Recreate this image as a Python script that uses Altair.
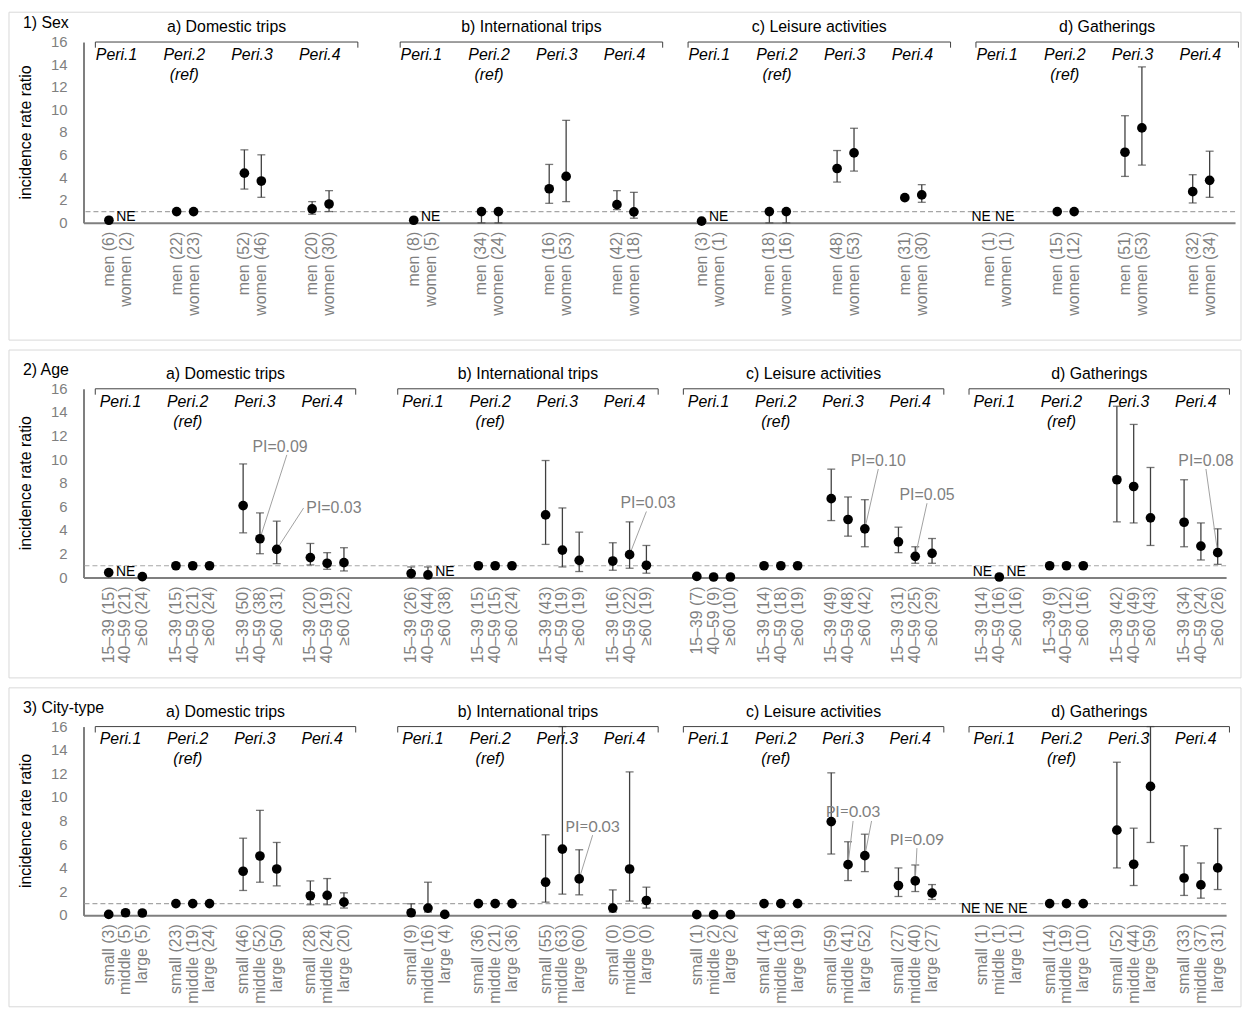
import altair as alt
import pandas as pd

N = None
FONT = "Liberation Sans"
GRAY = "#7f7f7f"
DARK = "#404040"

PANELS = ["a) Domestic trips", "b) International trips", "c) Leisure activities", "d) Gatherings"]
PERIODS = ["Peri.1", "Peri.2\n(ref)", "Peri.3", "Peri.4"]
ROW_TITLES = ["1) Sex", "2) Age", "3) City-type"]
Y_TITLE = "incidence rate ratio"
Y_TICKS = [0, 2, 4, 6, 8, 10, 12, 14, 16]

# ---------------- 1) Sex ----------------
SEX_GROUPS = ["men", "women"]
SEX_N = [[[6, 2], [22, 23], [52, 46], [20, 30]],
         [[8, 5], [34, 24], [16, 53], [42, 18]],
         [[3, 1], [18, 16], [48, 53], [31, 30]],
         [[1, 1], [15, 12], [51, 53], [32, 34]]]
SEX_IRR = [[[0.23, N], [1, 1], [4.40, 3.70], [1.23, 1.67]],
           [[0.23, N], [1, 1], [3.02, 4.11], [1.61, 0.97]],
           [[0.15, N], [1, 1], [4.81, 6.19], [2.23, 2.47]],
           [[N, N], [1, 1], [6.25, 8.40], [2.76, 3.76]]]
SEX_LO = [[[N, N], [N, N], [2.99, 2.26], [0.76, 1.00]],
          [[N, N], [0, 0], [1.73, 1.88], [1.17, 0.41]],
          [[N, N], [0, 0], [3.61, 4.58], [N, 1.82]],
          [[N, N], [N, N], [4.11, 5.11], [1.76, 2.26]]]
SEX_HI = [[[N, N], [N, N], [6.46, 6.02], [1.88, 2.85]],
          [[N, N], [1, 1], [5.17, 9.07], [2.85, 2.70]],
          [[N, N], [1, 1], [6.40, 8.37], [N, 3.38]],
          [[N, N], [N, N], [9.48, 13.8], [4.26, 6.34]]]

# ---------------- 2) Age ----------------
AGE_GROUPS = ["15\u201339", "40\u201359", "\u226560"]
AGE_N = [[[15, 21, 24], [15, 21, 24], [50, 38, 31], [20, 19, 22]],
         [[26, 44, 38], [15, 15, 24], [43, 19, 19], [16, 22, 19]],
         [[7, 9, 10], [14, 18, 19], [49, 48, 42], [31, 25, 29]],
         [[14, 16, 16], [9, 12, 16], [42, 49, 43], [34, 24, 26]]]
AGE_IRR = [[[0.42, N, 0.08], [1, 1, 1], [6.10, 3.29, 2.39], [1.69, 1.21, 1.26]],
           [[0.34, 0.22, N], [1, 1, 1], [5.31, 2.33, 1.46], [1.40, 1.94, 1.04]],
           [[0.10, 0.05, 0.05], [1, 1, 1], [6.69, 4.92, 4.13], [3.03, 1.80, 2.05]],
           [[N, 0.05, N], [1, 1, 1], [8.29, 7.72, 5.06], [4.69, 2.67, 2.11]]]
AGE_LO = [[[N, N, N], [N, N, N], [3.79, 2.02, 1.18], [1.07, 0.70, 0.56]],
          [[0.1, 0.1, N], [N, N, N], [2.81, 0.90, 0.51], [0.62, 0.79, 0.37]],
          [[N, N, N], [N, N, N], [4.83, 3.51, 2.61], [2.11, 1.21, 1.21]],
          [[N, N, N], [N, N, N], [4.72, 4.63, 2.72], [2.61, 1.49, 1.12]]]
AGE_HI = [[[N, N, N], [N, N, N], [9.63, 5.48, 4.78], [2.89, 2.11, 2.53]],
          [[0.9, 0.9, N], [N, N, N], [9.92, 5.90, 3.85], [2.95, 4.72, 2.72]],
          [[N, N, N], [N, N, N], [9.19, 6.83, 6.60], [4.27, 2.61, 3.31]],
          [[N, N, N], [N, N, N], [14.52, 12.98, 9.33], [8.29, 4.63, 4.13]]]

# ---------------- 3) City-type ----------------
CITY_GROUPS = ["small", "middle", "large"]
CITY_N = [[[3, 5, 5], [23, 19, 24], [46, 52, 50], [28, 24, 20]],
          [[9, 16, 4], [36, 21, 36], [55, 63, 60], [0, 0, 0]],
          [[1, 2, 2], [14, 18, 19], [59, 41, 52], [27, 40, 27]],
          [[1, 1, 1], [14, 19, 10], [52, 44, 59], [33, 37, 31]]]
CITY_IRR = [[[0.08, 0.22, 0.20], [1, 1, 1], [3.74, 5.03, 3.93], [1.66, 1.69, 1.12]],
            [[0.22, 0.62, 0.08], [1, 1, 1], [2.81, 5.62, 3.09], [0.62, 3.93, 1.26]],
            [[0.06, 0.06, 0.06], [1, 1, 1], [7.95, 4.30, 5.06], [2.53, 2.92, 1.88]],
            [[N, N, N], [1, 1, 1], [7.22, 4.33, 10.93], [3.17, 2.58, 4.02]]]
CITY_LO = [[[N, N, N], [N, N, N], [2.11, 2.81, 2.50], [0.90, 0.90, 0.62]],
           [[0.15, 0.28, N], [N, N, N], [1.12, 1.80, 1.74], [0.28, 1.21, 0.62]],
           [[N, N, N], [N, N, N], [5.20, 2.95, 3.71], [1.60, 2.02, 1.35]],
           [[N, N, N], [N, N, N], [4.02, 2.53, 6.18], [1.69, 1.46, 2.19]]]
CITY_HI = [[[N, N, N], [N, N, N], [6.54, 8.90, 6.18], [2.92, 3.12, 1.91]],
           [[0.98, 2.81, N], [N, N, N], [6.83, 16.0, 5.56], [2.16, 12.16, 2.39]],
           [[N, N, N], [N, N, N], [12.08, 6.24, 6.88], [4.02, 4.27, 2.61]],
           [[N, N, N], [N, N, N], [12.98, 7.39, 16.0], [5.90, 4.44, 7.36]]]

# PI annotations: (row, panel, period, group, text, label slot offset, label y)
PI_LABELS = [
    (1, 0, 2, 1, "PI=0.09", 1.2, 11.1),
    (1, 0, 2, 2, "PI=0.03", 3.4, 5.9),
    (1, 1, 3, 1, "PI=0.03", 1.1, 6.3),
    (1, 2, 2, 2, "PI=0.10", 0.8, 9.9),
    (1, 2, 3, 1, "PI=0.05", 0.7, 7.0),
    (1, 3, 3, 2, "PI=0.08", -0.7, 9.9),
    (2, 1, 2, 2, "PI=0.03", 0.8, 7.5),
    (2, 2, 2, 1, "PI=0.03", 0.3, 8.8),
    (2, 2, 3, 1, "PI=0.09", 0.1, 6.4),
]
# leader lines: (row, panel, period, group, outer-end slot offset, outer-end y)
PI_LEADERS = [
    (1, 0, 2, 1, 1.6, 10.4),
    (1, 0, 2, 2, 1.6, 5.9),
    (1, 1, 3, 1, 1.0, 5.6),
    (1, 2, 2, 2, 0.8, 9.2),
    (1, 2, 3, 1, 0.7, 6.3),
    (1, 3, 3, 2, -0.7, 9.2),
    (2, 1, 2, 2, 0.8, 6.8),
    (2, 2, 2, 1, 0.3, 8.0),
    (2, 2, 2, 2, 0.4, 8.0),
    (2, 2, 3, 1, 0.1, 5.7),
]

# ---------------- layout of category slots ----------------
PERIOD_SLOTS = 4
PANEL_GAPS = [1, 2, 1, 1]
N_SLOTS = 68
NE_SPREAD = 1.4     # slot spacing for runs of adjacent "NE" labels
NE_RUN_SHIFT = -0.3


def layout():
    panel_first, period_first = [], []
    slot = 0
    for p in range(len(PANELS)):
        slot += PANEL_GAPS[p]
        panel_first.append(slot)
        firsts = []
        for _ in PERIODS:
            firsts.append(slot)
            slot += PERIOD_SLOTS
        period_first.append(firsts)
    return panel_first, period_first


PANEL_FIRST, PERIOD_FIRST = layout()

X_SCALE = alt.Scale(domain=[-0.5, N_SLOTS - 0.5], nice=False, zero=False)
Y_SCALE = alt.Scale(domain=[0, 16], nice=False)

ROWS = [
    dict(groups=SEX_GROUPS, n=SEX_N, irr=SEX_IRR, lo=SEX_LO, hi=SEX_HI,
         width=1159, height=182, box=(-30, 118), per_shift=0.45, pi_font=FONT),
    dict(groups=AGE_GROUPS, n=AGE_N, irr=AGE_IRR, lo=AGE_LO, hi=AGE_HI,
         width=1150, height=190, box=(-39, 101), per_shift=0.7, pi_font=FONT),
    dict(groups=CITY_GROUPS, n=CITY_N, irr=CITY_IRR, lo=CITY_LO, hi=CITY_HI,
         width=1150, height=190, box=(-39, 92), per_shift=0.7, pi_font="Lato"),
]


# secondary layers leave the axis unspecified (implicit) so the explicit axes win
def xq(field):
    return alt.X(field, type="quantitative", scale=X_SCALE)


def yq(field):
    return alt.Y(field, type="quantitative", scale=Y_SCALE)


def ne_positions(slots):
    """Spread runs of adjacent NE labels so the texts do not collide."""
    out = []
    slots = sorted(slots)
    i = 0
    while i < len(slots):
        j = i
        while j + 1 < len(slots) and slots[j + 1] == slots[j] + 1:
            j += 1
        run = slots[i:j + 1]
        if len(run) == 1:
            out.append(run[0])
        else:
            c = (run[0] + run[-1]) / 2 + NE_RUN_SHIFT
            k = len(run)
            out += [c + (m - (k - 1) / 2) * NE_SPREAD for m in range(k)]
        i = j + 1
    return out


def row_chart(ri, cfg):
    groups = cfg["groups"]
    G = len(groups)
    recs = []
    for p in range(len(PANELS)):
        for q in range(len(PERIODS)):
            for g in range(G):
                s = PERIOD_FIRST[p][q] + g
                recs.append({"slot": s, "label": f"{groups[g]} ({cfg['n'][p][q][g]})",
                             "y0": 0, "irr": cfg["irr"][p][q][g],
                             "lo": cfg["lo"][p][q][g], "hi": cfg["hi"][p][q][g]})

    allrec = pd.DataFrame([{"slot": r["slot"], "label": r["label"], "y0": 0} for r in recs])
    pts = pd.DataFrame([{"slot": r["slot"], "irr": r["irr"]} for r in recs if r["irr"] is not None])
    bars = pd.DataFrame([{"slot": r["slot"], "lo": r["lo"], "hi": r["hi"]} for r in recs if r["lo"] is not None])
    caps = pd.DataFrame([{"slot": r["slot"], "v": r[k]} for r in recs if r["lo"] is not None for k in ("lo", "hi")])
    ne_slots = [r["slot"] for r in recs if r["irr"] is None]
    ne = pd.DataFrame([{"x": x, "y0": 0, "t": "NE"} for x in ne_positions(ne_slots)])

    W, H = cfg["width"], cfg["height"]
    bt, bb = cfg["box"]

    box = alt.Chart(pd.DataFrame({"k": [0]})).mark_rect(
        filled=False, stroke="#d9d9d9", strokeWidth=1
    ).encode(x=alt.value(-75), x2=alt.value(1165), y=alt.value(bt), y2=alt.value(H + bb))

    # axes: only the domain lines; labels are drawn as text marks below
    pt_l = alt.Chart(pts).mark_circle(size=95, color="black", opacity=1).encode(
        x=alt.X("slot:Q", scale=X_SCALE, axis=alt.Axis(
            labels=False, ticks=False, domainColor=GRAY, domainWidth=2, grid=False, title=None)),
        y=alt.Y("irr:Q", scale=Y_SCALE, axis=alt.Axis(
            labels=False, ticks=False, domainColor=GRAY, domainWidth=2, grid=False, title=None)),
    )

    refline = alt.Chart(pd.DataFrame({"ref": [1]})).mark_rule(
        color="#a6a6a6", strokeDash=[5, 3], strokeWidth=1.2
    ).encode(y=yq("ref"))

    bar_l = alt.Chart(bars).mark_rule(color=DARK, strokeWidth=1.3).encode(
        x=xq("slot"), y=yq("lo"), y2="hi:Q")
    cap_l = alt.Chart(caps).mark_tick(color=DARK, orient="horizontal", size=8, thickness=1.3).encode(
        x=xq("slot"), y=yq("v"))

    # category labels under the baseline, rotated
    xlab = alt.Chart(allrec).mark_text(
        angle=270, align="right", baseline="middle", dx=-9,
        font=FONT, fontSize=16, color=GRAY
    ).encode(x=xq("slot"), y=yq("y0"), text="label:N")

    # y tick labels and title
    ylab = alt.Chart(pd.DataFrame({"v": Y_TICKS})).mark_text(
        align="right", baseline="middle", font=FONT, fontSize=15, color=GRAY
    ).encode(x=alt.value(-16), y=yq("v"), text="v:Q")
    ytitle = alt.Chart(pd.DataFrame({"t": [Y_TITLE]})).mark_text(
        angle=270, align="center", baseline="middle", font=FONT, fontSize=16, color="black"
    ).encode(x=alt.value(-58), y=alt.value(H / 2), text="t:N")

    layers = [box, refline, bar_l, cap_l]

    # PI annotations
    def target(p, q, g):
        return PERIOD_FIRST[p][q] + g, cfg["irr"][p][q][g]

    lead = []
    for (r, p, q, g, dx, yy) in PI_LEADERS:
        if r == ri:
            s, v = target(p, q, g)
            lead.append({"x": s, "y": v, "x2": s + dx, "y2": yy})
    labs = []
    for (r, p, q, g, t, dx, yy) in PI_LABELS:
        if r == ri:
            s, v = target(p, q, g)
            labs.append({"x": s + dx, "y": yy, "t": t})
    if lead:
        layers.append(alt.Chart(pd.DataFrame(lead)).mark_rule(color="#a0a0a0", strokeWidth=1).encode(
            x=xq("x"), y=yq("y"), x2="x2:Q", y2="y2:Q"))

    layers += [pt_l, xlab, ylab, ytitle]

    if len(ne):
        layers.append(alt.Chart(ne).mark_text(
            font=FONT, fontSize=14, color="black", baseline="alphabetic", dy=-2
        ).encode(x=xq("x"), y=yq("y0"), text="t:N"))

    if labs:
        layers.append(alt.Chart(pd.DataFrame(labs)).mark_text(
            font=cfg["pi_font"], fontSize=16, color=GRAY, baseline="middle"
        ).encode(x=xq("x"), y=yq("y"), text="t:N"))

    # header: brackets, panel titles, period labels
    br = pd.DataFrame([{"x0": f - 0.8, "x1": f + 14.7, "xm": (2 * f + 13.9) / 2,
                        "top": 16, "bot": 15.5, "title": PANELS[i]}
                       for i, f in enumerate(PANEL_FIRST)])
    ends = pd.DataFrame([{"x": x, "top": 16, "bot": 15.5}
                         for _, r in br.iterrows() for x in (r["x0"], r["x1"])])
    layers.append(alt.Chart(br).mark_rule(color=DARK, strokeWidth=1).encode(
        x=xq("x0"), x2="x1:Q", y=yq("top")))
    layers.append(alt.Chart(ends).mark_rule(color=DARK, strokeWidth=1).encode(
        x=xq("x"), y=yq("top"), y2="bot:Q"))
    layers.append(alt.Chart(br).mark_text(
        font=FONT, fontSize=16, color="black", baseline="bottom", dy=-7
    ).encode(x=xq("xm"), y=yq("top"), text="title:N"))

    per = pd.DataFrame([{"x": PERIOD_FIRST[p][q] + cfg["per_shift"], "top": 16, "t": PERIODS[q]}
                        for p in range(len(PANELS)) for q in range(len(PERIODS))])
    layers.append(alt.Chart(per).mark_text(
        font=FONT, fontSize=16, fontStyle="italic", color="black", baseline="top",
        dy=5, lineBreak="\n", lineHeight=20
    ).encode(x=xq("x"), y=yq("top"), text="t:N"))

    rt = pd.DataFrame({"t": [ROW_TITLES[ri]], "top": [16]})
    layers.append(alt.Chart(rt).mark_text(
        font=FONT, fontSize=16, color="black", align="left", baseline="bottom", dy=-11
    ).encode(x=alt.value(-61), y=yq("top"), text="t:N"))

    return alt.layer(*layers).properties(width=W, height=H)


rows = [row_chart(i, cfg) for i, cfg in enumerate(ROWS)]
chart = alt.vconcat(*rows, spacing=8).properties(padding=0, background="white") \
    .configure_view(stroke=None)

chart.save("out.html", embed_options={"renderer": "svg", "actions": False})
